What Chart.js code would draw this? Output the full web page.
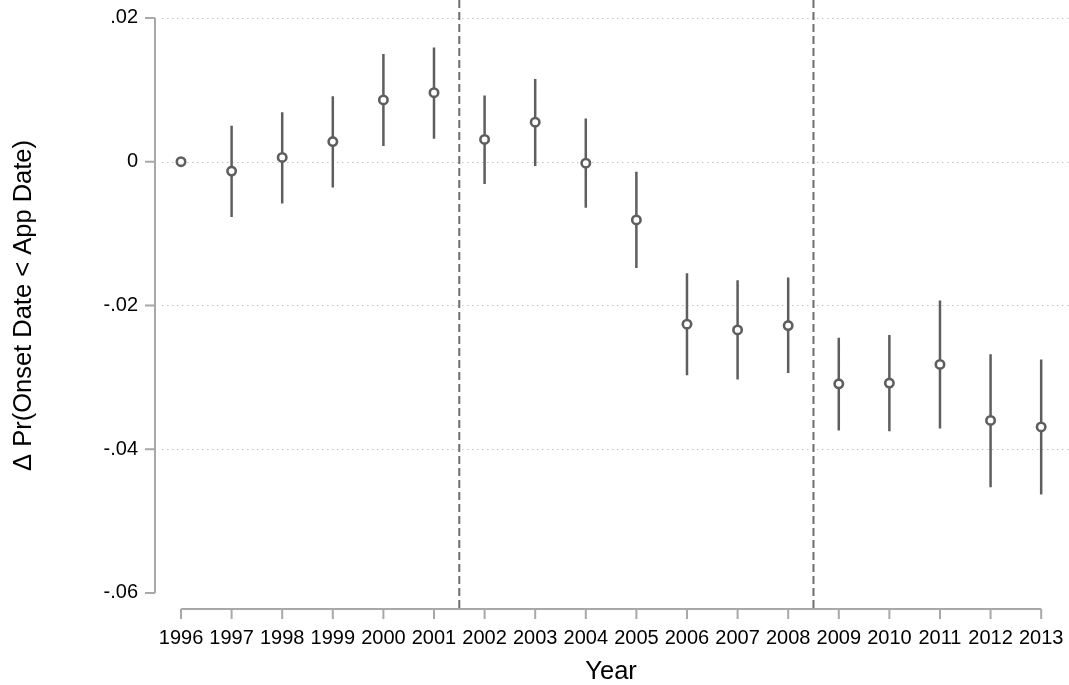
<!DOCTYPE html>
<html>
<head>
<meta charset="utf-8">
<script src="https://cdn.jsdelivr.net/npm/chart.js@4.4.1/dist/chart.umd.min.js"></script>
<style>
  html, body { margin: 0; padding: 0; background: #fff; }
  #wrap { width: 1069px; height: 685px; }
</style>
</head>
<body>
<div id="wrap"><canvas id="c" width="1069" height="685"></canvas></div>
<script>
// data
var years = [1996, 1997, 1998, 1999, 2000, 2001, 2002, 2003, 2004, 2005, 2006, 2007, 2008, 2009, 2010, 2011, 2012, 2013];
var estimates = [0, -0.0013, 0.0006, 0.0028, 0.0086, 0.0096, 0.0031, 0.0055, -0.0002, -0.0081, -0.0226, -0.0234, -0.0228, -0.0309, -0.0308, -0.0282, -0.0360, -0.0369];
var ciLow = [null, -0.0077, -0.0058, -0.0036, 0.0022, 0.0032, -0.0031, -0.0006, -0.0064, -0.0148, -0.0297, -0.0303, -0.0294, -0.0374, -0.0375, -0.0371, -0.0453, -0.0463];
var ciHigh = [null, 0.0050, 0.0069, 0.0091, 0.0150, 0.0159, 0.0092, 0.0115, 0.0060, -0.0014, -0.0155, -0.0165, -0.0161, -0.0245, -0.0241, -0.0193, -0.0268, -0.0275];
var yTicks = [0.02, 0, -0.02, -0.04, -0.06];
var yTickLabels = [".02", "0", "-.02", "-.04", "-.06"];
var gridTicks = [0.02, 0, -0.02, -0.04];
var breakYears = [2001.5, 2008.5];

var markColor = "#5e5e5e";
var axisColor = "#a8a8a8";
var tickFont = "20px 'Liberation Sans', Arial, sans-serif";
var titleFont = "25.5px 'Liberation Sans', Arial, sans-serif";

// CI segments as one line with gaps
var ciPoints = [];
for (var i = 0; i < years.length; i++) {
  if (ciLow[i] === null) continue;
  ciPoints.push({x: years[i], y: ciLow[i]});
  ciPoints.push({x: years[i], y: ciHigh[i]});
  ciPoints.push({x: years[i], y: null});
}
var pointData = years.map(function(y, i) { return {x: y, y: estimates[i]}; });

var decor = {
  id: "decor",
  beforeDatasetsDraw: function(chart) {
    var ctx = chart.ctx, xs = chart.scales.x, ys = chart.scales.y, area = chart.chartArea;
    ctx.save();
    // dotted grid
    ctx.strokeStyle = "#c4c4c4";
    ctx.lineWidth = 1.2;
    ctx.setLineDash([1.5, 3.5]);
    gridTicks.forEach(function(t) {
      var py = Math.round(ys.getPixelForValue(t)) + 0.5;
      ctx.beginPath();
      ctx.moveTo(area.left + 7, py);
      ctx.lineTo(area.right, py);
      ctx.stroke();
    });
    // dashed period breaks
    ctx.strokeStyle = "#6e6e6e";
    ctx.lineWidth = 2;
    ctx.setLineDash([8, 4]);
    breakYears.forEach(function(b) {
      var px = xs.getPixelForValue(b);
      ctx.beginPath();
      ctx.moveTo(px, area.top);
      ctx.lineTo(px, area.bottom);
      ctx.stroke();
    });
    ctx.restore();
  },
  afterDraw: function(chart) {
    var ctx = chart.ctx, xs = chart.scales.x, ys = chart.scales.y, area = chart.chartArea;
    ctx.save();
    ctx.strokeStyle = axisColor;
    ctx.lineWidth = 2;
    ctx.setLineDash([]);
    // y axis
    var ax = area.left;
    ctx.beginPath();
    ctx.moveTo(ax, ys.getPixelForValue(yTicks[0]));
    ctx.lineTo(ax, ys.getPixelForValue(yTicks[yTicks.length - 1]));
    ctx.stroke();
    ctx.fillStyle = "#000";
    ctx.font = tickFont;
    ctx.textAlign = "right";
    ctx.textBaseline = "middle";
    yTicks.forEach(function(t, i) {
      var py = ys.getPixelForValue(t);
      ctx.beginPath();
      ctx.moveTo(ax - 10, py);
      ctx.lineTo(ax, py);
      ctx.stroke();
      ctx.fillText(yTickLabels[i], ax - 17, py);
    });
    // x axis
    var ay = area.bottom;
    ctx.beginPath();
    ctx.moveTo(xs.getPixelForValue(years[0]), ay);
    ctx.lineTo(xs.getPixelForValue(years[years.length - 1]), ay);
    ctx.stroke();
    ctx.textAlign = "center";
    ctx.textBaseline = "alphabetic";
    years.forEach(function(y) {
      var px = xs.getPixelForValue(y);
      ctx.beginPath();
      ctx.moveTo(px, ay);
      ctx.lineTo(px, ay + 10);
      ctx.stroke();
      ctx.fillText(String(y), px, ay + 35);
    });
    // axis titles
    ctx.font = titleFont;
    var midX = (xs.getPixelForValue(years[0]) + xs.getPixelForValue(years[years.length - 1])) / 2;
    ctx.fillText("Year", midX, ay + 70);
    ctx.translate(31, (ys.getPixelForValue(yTicks[0]) + ys.getPixelForValue(yTicks[yTicks.length - 1])) / 2);
    ctx.rotate(-Math.PI / 2);
    ctx.textBaseline = "alphabetic";
    ctx.fillText("\u0394 Pr(Onset Date < App Date)", 0, 0);
    ctx.restore();
  }
};

new Chart(document.getElementById("c"), {
  type: "scatter",
  data: {
    datasets: [
      {
        type: "line",
        data: ciPoints,
        borderColor: markColor,
        borderWidth: 2.5,
        pointRadius: 0,
        spanGaps: false,
        fill: false,
        order: 2
      },
      {
        data: pointData,
        pointStyle: "circle",
        pointRadius: 4.2,
        pointBorderWidth: 2.6,
        pointBorderColor: markColor,
        pointBackgroundColor: "#fff",
        order: 1
      }
    ]
  },
  options: {
    responsive: false,
    animation: false,
    layout: { autoPadding: false, padding: { left: 155, right: 0, top: 0, bottom: 76 } },
    plugins: { legend: { display: false }, tooltip: { enabled: false } },
    scales: {
      x: { type: "linear", display: false, min: 1995.486, max: 2013.55 },
      y: { type: "linear", display: false, min: -0.06223, max: 0.0225 }
    }
  },
  plugins: [decor]
});
</script>
</body>
</html>
